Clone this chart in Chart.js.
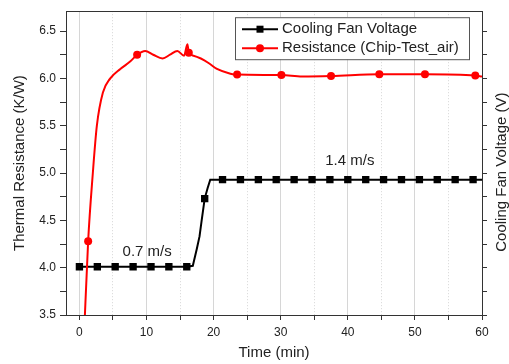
<!DOCTYPE html>
<html>
<head>
<meta charset="utf-8">
<script src="https://cdn.jsdelivr.net/npm/chart.js@4/dist/chart.umd.min.js"></script>
<style>
  html, body { margin: 0; padding: 0; background: #fff; }
  #wrap { width: 509px; height: 364px; }
</style>
</head>
<body>
<div id="wrap"><canvas id="chart"></canvas></div>
<script>
// ── Data ────────────────────────────────────────────────────
const timeTicks = [0, 10, 20, 30, 40, 50, 60];
const resTicks  = [3.5, 4.0, 4.5, 5.0, 5.5, 6.0, 6.5];

// cooling fan voltage, plotted against the right axis (same span as left)
const fanTime  = [0, 2.67, 5.33, 8, 10.67, 13.33, 16, 16.9, 17.5, 17.9, 18.2, 18.67, 19.1, 19.5,
                  21.33, 24, 26.67, 29.33, 32, 34.67, 37.33, 40, 42.67, 45.33, 48, 50.67, 53.33, 56, 58.67, 60];
const fanVolt  = [4.01, 4.01, 4.01, 4.01, 4.01, 4.01, 4.01, 4.02, 4.2, 4.33, 4.49, 4.73, 4.84, 4.93,
                  4.93, 4.93, 4.93, 4.93, 4.93, 4.93, 4.93, 4.93, 4.93, 4.93, 4.93, 4.93, 4.93, 4.93, 4.93, 4.93];
const fanMarks = [0, 2.67, 5.33, 8, 10.67, 13.33, 16, 18.67, 21.33, 24, 26.67, 29.33, 32, 34.67,
                  37.33, 40, 42.67, 45.33, 48, 50.67, 53.33, 56, 58.67];

// thermal resistance (Chip-Test_air)
const resTime  = [0.7, 1.3, 2.0, 2.6, 3.5, 4.6, 6.1, 7.6, 8.6, 9.8, 11.0, 12.4, 13.5, 14.6, 15.6, 16.1,
                  16.3, 17.0, 18.1, 19.3, 20.5, 22.5, 23.5, 30.1, 33.2, 37.5, 44.7, 51.5, 59, 60];
const resVal   = [3.3, 4.28, 5.0, 5.5, 5.85, 6.0, 6.1, 6.18, 6.25, 6.29, 6.25, 6.21, 6.25, 6.29, 6.24, 6.36,
                  6.27, 6.24, 6.21, 6.16, 6.10, 6.05, 6.04, 6.035, 6.02, 6.025, 6.045, 6.045, 6.03, 6.02];
const resMarks = [1.3, 8.6, 16.3, 23.5, 30.1, 37.5, 44.7, 51.5, 59];

const speedText = ['0.7 m/s', '1.4 m/s'];
const speedTime = [10.1, 40.3];
const speedRes  = [4.17, 5.13];

// ── Helpers ──────────────────────────────────────────────────
const FONT = "'Liberation Sans', Arial, sans-serif";
const INK  = '#222';
const halves = arr => arr.flatMap((v, i) => i ? [(arr[i - 1] + v) / 2, v] : [v]);
const setTicks = vals => s => { s.ticks = vals.map(v => ({ value: v })); };

Chart.defaults.font.family = FONT;
Chart.defaults.color = INK;

// legend box, speed notes and right-hand title
const extras = {
  id: 'extras',
  afterDatasetsDraw(chart) {
    const { ctx, chartArea, scales } = chart;
    ctx.save();
    ctx.fillStyle = INK;
    ctx.font = `15px ${FONT}`;
    ctx.textAlign = 'center';
    ctx.textBaseline = 'middle';
    speedText.forEach((t, i) => {
      ctx.fillText(t, scales.x.getPixelForValue(speedTime[i]), scales.y.getPixelForValue(speedRes[i]));
    });

    // legend
    const bx = chartArea.right - 247, by = chartArea.top + 6, bw = 234, bh = 42;
    ctx.fillStyle = '#fff';
    ctx.fillRect(bx, by, bw, bh);
    ctx.strokeStyle = '#555';
    ctx.lineWidth = 1;
    ctx.strokeRect(bx + 0.5, by + 0.5, bw, bh);
    const rows = [
      { text: 'Cooling Fan Voltage', color: '#000', square: true },
      { text: 'Resistance (Chip-Test_air)', color: '#f00', square: false }
    ];
    rows.forEach((r, i) => {
      const y = by + 12 + i * 19;
      ctx.strokeStyle = r.color;
      ctx.lineWidth = 2;
      ctx.beginPath();
      ctx.moveTo(bx + 7, y);
      ctx.lineTo(bx + 43, y);
      ctx.stroke();
      ctx.fillStyle = r.color;
      if (r.square) ctx.fillRect(bx + 21.5, y - 3.5, 7, 7);
      else { ctx.beginPath(); ctx.arc(bx + 25, y, 4, 0, Math.PI * 2); ctx.fill(); }
      ctx.fillStyle = INK;
      ctx.textAlign = 'left';
      ctx.fillText(r.text, bx + 47, y);
    });

    // right axis title, reading bottom to top
    ctx.translate(chart.width - 7, (chartArea.top + chartArea.bottom) / 2 + 9);
    ctx.rotate(-Math.PI / 2);
    ctx.textAlign = 'center';
    ctx.fillText('Cooling Fan Voltage (V)', 0, 0);
    ctx.restore();
  }
};

new Chart(document.getElementById('chart'), {
  type: 'line',
  data: {
    datasets: [
      {
        label: 'Resistance (Chip-Test_air)',
        data: resTime.map((t, i) => ({ x: t, y: resVal[i] })),
        yAxisID: 'y',
        borderColor: '#f00',
        backgroundColor: '#f00',
        borderWidth: 2,
        cubicInterpolationMode: 'monotone',
        pointStyle: 'circle',
        pointRadius: c => resMarks.includes(resTime[c.dataIndex]) ? 4 : 0,
        pointBorderWidth: 0
      },
      {
        label: 'Cooling Fan Voltage',
        data: fanTime.map((t, i) => ({ x: t, y: fanVolt[i] })),
        yAxisID: 'y2',
        borderColor: '#000',
        backgroundColor: '#000',
        borderWidth: 2,
        tension: 0,
        pointStyle: 'rect',
        pointRadius: c => fanMarks.includes(fanTime[c.dataIndex]) ? 5.2 : 0,
        pointBorderWidth: 0
      }
    ]
  },
  options: {
    responsive: true,
    maintainAspectRatio: false,
    animation: false,
    layout: { padding: 0 },
    plugins: { legend: { display: false }, tooltip: { enabled: false } },
    scales: {
      x: {
        type: 'linear', position: 'bottom', min: -2, max: 60,
        afterBuildTicks: setTicks(halves(timeTicks)),
        afterFit: s => { s.height = 49; },
        ticks: {
          autoSkip: false, maxRotation: 0, padding: 5,
          font: { size: 12 },
          callback: v => timeTicks.includes(v) ? String(v) : ''
        },
        grid: {
          color: c => '#d6d6d6',
          tickColor: '#333', tickLength: 5
        },
        border: {
          color: '#333',
          dash: c => (c.type === 'tick' && !timeTicks.includes(c.tick.value)) ? [1, 2] : []
        },
        title: { display: true, text: 'Time (min)', font: { size: 15 }, padding: { top: 0, bottom: 2 } }
      },
      xTop: {
        type: 'linear', position: 'top', min: -2, max: 60,
        afterFit: s => { s.height = 7; },
        ticks: { display: false },
        grid: { display: false },
        border: { color: '#333' }
      },
      y: {
        type: 'linear', position: 'left', min: 3.5, max: 6.71,
        afterBuildTicks: setTicks(halves(resTicks)),
        afterFit: s => { s.width = 66; },
        ticks: {
          autoSkip: false, padding: 4,
          font: { size: 12 },
          callback: v => resTicks.includes(v) ? v.toFixed(1) : ''
        },
        grid: { drawOnChartArea: false, tickColor: '#333', tickLength: 6 },
        border: { color: '#333' },
        title: { display: true, text: 'Thermal Resistance (K/W)', font: { size: 15 }, padding: { top: 11, bottom: 0 } }
      },
      y2: {
        type: 'linear', position: 'right', min: 3.5, max: 6.71,
        afterBuildTicks: setTicks(halves(resTicks)),
        afterFit: s => { s.width = 27; },
        ticks: { autoSkip: false, padding: 0, callback: () => '' },
        grid: { drawOnChartArea: false, tickColor: '#333', tickLength: 5 },
        border: { color: '#333' }
      }
    }
  },
  plugins: [extras]
});
</script>
</body>
</html>
